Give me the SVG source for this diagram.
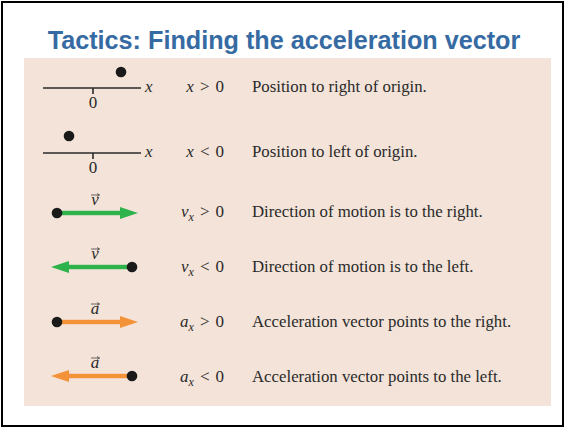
<svg xmlns="http://www.w3.org/2000/svg" width="567" height="429" viewBox="0 0 567 429">
<style>
.title{font-family:"Liberation Sans",Arial,sans-serif;font-weight:bold;font-size:25.2px;fill:#356aa2}
.t{font-family:"Liberation Serif","Times New Roman",serif;font-size:16.8px;fill:#2a2a2a}
.m{font-family:"Liberation Serif","Times New Roman",serif;font-size:17px;fill:#2a2a2a}
.i{font-style:italic}
.axis{stroke:#2a2a2a;stroke-width:1.6;fill:none}
.dot{fill:#1a1a1a}
.g{fill:#2eb24b}
.o{fill:#f39237}
.acc{stroke:#444;stroke-width:0.8;fill:none}
</style>
<rect x="2" y="2" width="561" height="424" fill="#fff" stroke="#000" stroke-width="2"/>
<text class="title" x="284" y="49" text-anchor="middle">Tactics: Finding the acceleration vector</text>
<rect x="24" y="58" width="527" height="348" fill="#f3e3d8"/>

<g id="row1">
<line class="axis" x1="43" y1="88" x2="141" y2="88"/>
<line class="axis" x1="93" y1="88" x2="93" y2="94"/>
<text class="m" x="93" y="108" text-anchor="middle">0</text>
<circle class="dot" cx="121" cy="72" r="5.3"/>
<text class="m i" x="145" y="92">x</text>
<text class="m" x="224" y="92" text-anchor="end"><tspan class="i">x</tspan><tspan dx="6">&gt;</tspan><tspan dx="6">0</tspan></text>
<text class="t" x="252" y="92">Position to right of origin.</text>
</g>

<g id="row2">
<line class="axis" x1="43" y1="153" x2="141" y2="153"/>
<line class="axis" x1="93" y1="153" x2="93" y2="159"/>
<text class="m" x="93" y="173" text-anchor="middle">0</text>
<circle class="dot" cx="69" cy="136" r="5.3"/>
<text class="m i" x="145" y="157">x</text>
<text class="m" x="224" y="157" text-anchor="end"><tspan class="i">x</tspan><tspan dx="6">&lt;</tspan><tspan dx="6">0</tspan></text>
<text class="t" x="252" y="157">Position to left of origin.</text>
</g>

<g id="row3">
<rect class="g" x="57" y="210.8" width="65" height="4.4"/>
<polygon class="g" points="120,207 138,213 120,219"/>
<circle class="dot" cx="57" cy="213" r="5.3"/>
<text class="m i" x="95" y="205" text-anchor="middle">v</text>
<path class="acc" d="M91 195 H99.5 M97 193.5 L99.5 195 L97 196.5"/>
<text class="m" x="224" y="217" text-anchor="end"><tspan class="i">v</tspan><tspan class="i" font-size="12" dy="4">x</tspan><tspan dy="-4" dx="6">&gt;</tspan><tspan dx="6">0</tspan></text>
<text class="t" x="252" y="217">Direction of motion is to the right.</text>
</g>

<g id="row4">
<rect class="g" x="67" y="264.8" width="65" height="4.4"/>
<polygon class="g" points="69,261 51,267 69,273"/>
<circle class="dot" cx="132" cy="267" r="5.3"/>
<text class="m i" x="95" y="259" text-anchor="middle">v</text>
<path class="acc" d="M91 249 H99.5 M97 247.5 L99.5 249 L97 250.5"/>
<text class="m" x="224" y="272" text-anchor="end"><tspan class="i">v</tspan><tspan class="i" font-size="12" dy="4">x</tspan><tspan dy="-4" dx="6">&lt;</tspan><tspan dx="6">0</tspan></text>
<text class="t" x="252" y="272">Direction of motion is to the left.</text>
</g>

<g id="row5">
<rect class="o" x="57" y="319.8" width="65" height="4.4"/>
<polygon class="o" points="120,316 138,322 120,328"/>
<circle class="dot" cx="57" cy="322" r="5.3"/>
<text class="m i" x="95" y="314" text-anchor="middle">a</text>
<path class="acc" d="M91 304 H99.5 M97 302.5 L99.5 304 L97 305.5"/>
<text class="m" x="224" y="327" text-anchor="end"><tspan class="i">a</tspan><tspan class="i" font-size="12" dy="4">x</tspan><tspan dy="-4" dx="6">&gt;</tspan><tspan dx="6">0</tspan></text>
<text class="t" x="252" y="327">Acceleration vector points to the right.</text>
</g>

<g id="row6">
<rect class="o" x="67" y="373.8" width="65" height="4.4"/>
<polygon class="o" points="69,370 51,376 69,382"/>
<circle class="dot" cx="132" cy="376" r="5.3"/>
<text class="m i" x="95" y="368" text-anchor="middle">a</text>
<path class="acc" d="M91 358 H99.5 M97 356.5 L99.5 358 L97 359.5"/>
<text class="m" x="224" y="382" text-anchor="end"><tspan class="i">a</tspan><tspan class="i" font-size="12" dy="4">x</tspan><tspan dy="-4" dx="6">&lt;</tspan><tspan dx="6">0</tspan></text>
<text class="t" x="252" y="382">Acceleration vector points to the left.</text>
</g>
<g id="connectors"/>
</svg>
